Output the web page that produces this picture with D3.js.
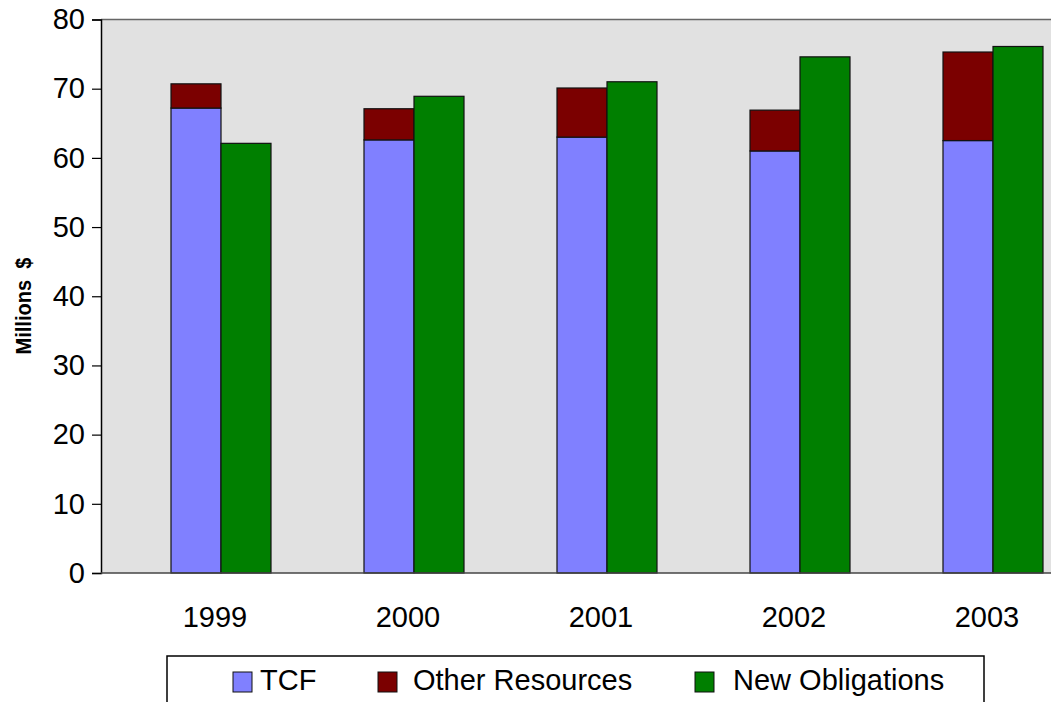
<!DOCTYPE html>
<html>
<head>
<meta charset="utf-8">
<script src="https://cdn.jsdelivr.net/npm/d3@7"></script>
<style>
    html, body { margin: 0; padding: 0; background: #fff; }
    svg { display: block; font-family: "Liberation Sans", Arial, sans-serif; }
</style>
</head>
<body>
<div class="content"></div>
<script>
(function (window) {
    'use strict';
    var years = ["1999", "2000", "2001", "2002", "2003"],
        tcf = [67.2, 62.6, 63.0, 61.0, 62.5],
        otherResources = [3.5, 4.5, 7.1, 5.9, 12.8],
        newObligations = [62.1, 68.9, 71.0, 74.6, 76.1],
        yTicks = [0, 10, 20, 30, 40, 50, 60, 70, 80],
        legendLabels = ["TCF", "Other Resources", "New Obligations"],
        chartOptions = {
            width: 1051,
            height: 702,
            plot: {left: 101, top: 19.5, right: 1060, bottom: 573},
            barWidth: 50,
            fontSize: "29px",
            colors: ["#8080ff", "#7b0000", "#007f00"],
            background: "#e1e1e1"
        },
        svg, x, y, plot, groups, legend, legendItems;

    svg = d3.select(".content").append("svg")
        .attr("width", chartOptions.width)
        .attr("height", chartOptions.height);

    x = d3.scalePoint()
        .domain(years)
        .range([221, 993]);

    y = d3.scaleLinear()
        .domain([0, 80])
        .range([chartOptions.plot.bottom, chartOptions.plot.top]);

    // plot background
    plot = svg.append("g");
    plot.append("rect")
        .attr("x", chartOptions.plot.left)
        .attr("y", chartOptions.plot.top)
        .attr("width", chartOptions.plot.right - chartOptions.plot.left)
        .attr("height", chartOptions.plot.bottom - chartOptions.plot.top)
        .attr("fill", chartOptions.background);
    plot.append("line")
        .attr("x1", chartOptions.plot.left).attr("x2", chartOptions.plot.right)
        .attr("y1", chartOptions.plot.top).attr("y2", chartOptions.plot.top)
        .attr("stroke", "#666").attr("stroke-width", 1.5);

    // bars
    groups = svg.selectAll("g.year").data(years).enter().append("g")
        .attr("class", "year");

    groups.append("rect")
        .attr("x", function (d) { return x(d) - chartOptions.barWidth; })
        .attr("y", function (d, i) { return y(tcf[i]); })
        .attr("width", chartOptions.barWidth)
        .attr("height", function (d, i) { return y(0) - y(tcf[i]); })
        .attr("fill", chartOptions.colors[0]);

    groups.append("rect")
        .attr("x", function (d) { return x(d) - chartOptions.barWidth; })
        .attr("y", function (d, i) { return y(tcf[i] + otherResources[i]); })
        .attr("width", chartOptions.barWidth)
        .attr("height", function (d, i) { return y(tcf[i]) - y(tcf[i] + otherResources[i]); })
        .attr("fill", chartOptions.colors[1]);

    groups.append("rect")
        .attr("x", function (d) { return x(d); })
        .attr("y", function (d, i) { return y(newObligations[i]); })
        .attr("width", chartOptions.barWidth)
        .attr("height", function (d, i) { return y(0) - y(newObligations[i]); })
        .attr("fill", chartOptions.colors[2]);

    groups.selectAll("rect")
        .attr("stroke", "#111")
        .attr("stroke-width", 1.2);

    // axes
    svg.append("g")
        .attr("transform", "translate(" + chartOptions.plot.left + ",0)")
        .call(d3.axisLeft(y).tickValues(yTicks).tickSize(9).tickPadding(7))
        .call(function (g) {
            g.select(".domain").attr("stroke", "#000").attr("stroke-width", 1.5);
            g.selectAll(".tick line").attr("stroke", "#000").attr("stroke-width", 1.2);
            g.selectAll("text").attr("font-size", chartOptions.fontSize).attr("fill", "#000")
                .attr("font-family", "Liberation Sans, Arial, sans-serif");
        });

    svg.append("line")
        .attr("x1", chartOptions.plot.left).attr("x2", chartOptions.plot.right)
        .attr("y1", chartOptions.plot.bottom).attr("y2", chartOptions.plot.bottom)
        .attr("stroke", "#444").attr("stroke-width", 1.5);

    svg.selectAll("text.xlabel").data(years).enter().append("text")
        .attr("class", "xlabel")
        .attr("x", function (d) { return x(d) - 6; })
        .attr("y", 627)
        .attr("text-anchor", "middle")
        .attr("font-size", chartOptions.fontSize)
        .text(function (d) { return d; });

    svg.append("text")
        .attr("transform", "translate(31,306) rotate(-90)")
        .attr("text-anchor", "middle")
        .attr("font-size", "22px")
        .attr("font-weight", "bold")
        .attr("textLength", 97)
        .attr("lengthAdjust", "spacingAndGlyphs")
        .text("Millions\u00a0\u00a0$");

    // legend
    legend = svg.append("g");
    legend.append("rect")
        .attr("x", 167).attr("y", 656)
        .attr("width", 817).attr("height", 60)
        .attr("fill", "#fff")
        .attr("stroke", "#000").attr("stroke-width", 1.5);

    legendItems = legend.selectAll("g.item").data(legendLabels).enter().append("g")
        .attr("class", "item")
        .attr("transform", function (d, i) { return "translate(" + [233, 378, 695][i] + ",0)"; });
    legendItems.append("rect")
        .attr("y", 672).attr("width", 19).attr("height", 20)
        .attr("fill", function (d, i) { return chartOptions.colors[i]; })
        .attr("stroke", "#111").attr("stroke-width", 1);
    legendItems.append("text")
        .attr("x", function (d, i) { return [27, 35, 38][i]; })
        .attr("y", 690)
        .attr("font-size", chartOptions.fontSize)
        .text(function (d) { return d; });
}(window));
</script>
</body>
</html>
